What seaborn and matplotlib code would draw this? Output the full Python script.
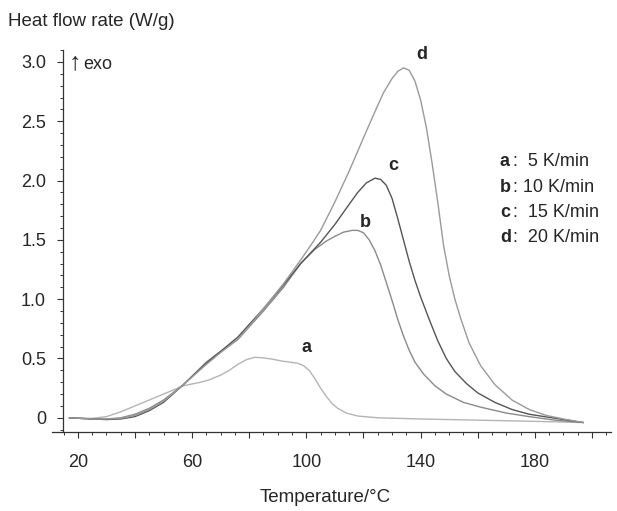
import matplotlib
matplotlib.use("Agg")
import matplotlib.pyplot as plt
import pandas as pd
import seaborn as sns
from matplotlib.ticker import MultipleLocator

sns.set_style("ticks")
plt.rcParams["font.family"] = ["Liberation Sans", "DejaVu Sans"]

# values (temperature in degC, heat flow in W/g)
t_a = [17, 25, 30, 35, 40, 45, 50, 54, 57, 60, 63, 66, 70, 73, 76, 79, 82, 85, 88, 91,
       94, 97, 99, 101, 103, 105, 107, 109, 111, 114, 118, 125, 140, 160, 180, 197]
h_a = [0.0, -0.005, 0.01, 0.05, 0.1, 0.15, 0.2, 0.24, 0.27, 0.285, 0.3, 0.32, 0.36, 0.4,
       0.45, 0.49, 0.51, 0.505, 0.495, 0.48, 0.47, 0.46, 0.44, 0.4, 0.33, 0.25, 0.18, 0.12,
       0.08, 0.04, 0.015, 0.0, -0.01, -0.02, -0.03, -0.04]

t_b = [17, 25, 30, 35, 40, 45, 50, 57, 65, 70, 76, 85, 92, 98, 103, 107, 110, 113, 116,
       118, 120, 122, 124, 126, 128, 130, 132, 134, 136, 138, 141, 145, 149, 155, 161,
       170, 178, 187, 197]
h_b = [0.0, -0.01, -0.01, 0.0, 0.03, 0.08, 0.15, 0.28, 0.47, 0.56, 0.66, 0.9, 1.1, 1.3,
       1.42, 1.49, 1.53, 1.565, 1.58, 1.58, 1.56, 1.5, 1.41, 1.29, 1.14, 0.99, 0.83, 0.69,
       0.57, 0.47, 0.37, 0.27, 0.2, 0.13, 0.09, 0.04, 0.01, -0.02, -0.04]

t_c = [17, 25, 30, 35, 40, 45, 50, 57, 65, 70, 76, 85, 92, 98, 105, 110, 115, 118, 121,
       124, 126, 128, 130, 132, 134, 136, 138, 140, 143, 146, 149, 152, 156, 160, 166,
       172, 178, 186, 197]
h_c = [0.0, -0.01, -0.015, -0.01, 0.01, 0.06, 0.13, 0.28, 0.46, 0.56, 0.68, 0.92, 1.12,
       1.3, 1.48, 1.63, 1.8, 1.9, 1.98, 2.02, 2.01, 1.96, 1.85, 1.68, 1.5, 1.32, 1.16,
       1.02, 0.83, 0.65, 0.5, 0.39, 0.29, 0.21, 0.13, 0.07, 0.03, 0.0, -0.04]

t_d = [17, 25, 30, 35, 40, 45, 50, 57, 65, 70, 76, 80, 85, 92, 98, 102, 105, 110, 115,
       120, 124, 127, 130, 132, 134, 136, 138, 140, 142, 144, 146, 148, 150, 152, 154,
       157, 161, 166, 172, 178, 184, 190, 197]
h_d = [0.0, -0.01, -0.01, -0.005, 0.02, 0.07, 0.14, 0.28, 0.45, 0.55, 0.66, 0.77, 0.92,
       1.13, 1.33, 1.47, 1.58, 1.82, 2.08, 2.36, 2.58, 2.74, 2.86, 2.92, 2.95, 2.93, 2.84,
       2.68, 2.45, 2.15, 1.82, 1.46, 1.2, 1.0, 0.84, 0.63, 0.44, 0.28, 0.15, 0.07, 0.02,
       -0.01, -0.04]

curve_names = ["a", "b", "c", "d"]
rates = ["5 K/min", "10 K/min", "15 K/min", "20 K/min"]
legend_pad = ["  ", " ", "  ", "  "]
# label anchor positions (degC, W/g)
label_t = [100, 120.5, 130.3, 140.5]
label_h = [0.59, 1.65, 2.13, 3.06]

frames = []
for name, t, h in zip(curve_names, [t_a, t_b, t_c, t_d], [h_a, h_b, h_c, h_d]):
    frames.append(pd.DataFrame({"T": t, "H": h, "curve": name}))
df = pd.concat(frames, ignore_index=True)

colors = {"a": "#b4b4b4", "b": "#8a8a8a", "c": "#555555", "d": "#9a9a9a"}

fig = plt.figure(figsize=(6.17, 5.11), dpi=100)
ax = fig.add_axes([0.084, 0.155, 0.906, 0.747])

sns.lineplot(data=df, x="T", y="H", hue="curve", palette=colors, legend=False,
             linewidth=1.0, ax=ax)

ax.set_xlim(10.9, 206.6)
ax.set_ylim(-0.118, 3.10)
sns.despine(ax=ax)
ax.spines["left"].set_position(("data", 14.7))

ax.set_xticks([20, 40, 60, 80, 100, 120, 140, 160, 180, 200])
ax.set_xticklabels(["20", "", "60", "", "100", "", "140", "", "180", ""])
ax.xaxis.set_minor_locator(MultipleLocator(5))
ax.set_yticks([0, 0.5, 1.0, 1.5, 2.0, 2.5, 3.0])
ax.set_yticklabels(["0", "0.5", "1.0", "1.5", "2.0", "2.5", "3.0"])
ax.yaxis.set_minor_locator(MultipleLocator(0.1))
ax.tick_params(axis="both", which="major", length=4, width=0.8, labelsize=13, color="#333333")
ax.tick_params(axis="both", which="minor", length=2.5, width=0.7, color="#333333")
ax.tick_params(axis="x", which="major", pad=12)
ax.tick_params(axis="y", which="major", pad=8)
for s in ["left", "bottom"]:
    ax.spines[s].set_color("#333333")
    ax.spines[s].set_linewidth(0.9)

ax.set_xlabel("")
ax.set_ylabel("")
fig.text(0.527, 0.027, "Temperature/°C", fontsize=13.5, va="center", ha="center")
fig.text(0.013, 0.957, "Heat flow rate (W/g)", fontsize=13.5, va="center", ha="left")
fig.text(0.111, 0.879, "↑", fontsize=18, va="center", ha="left")
fig.text(0.135, 0.873, "exo", fontsize=13, va="center", ha="left")

for name, tx, hy in zip(curve_names, label_t, label_h):
    ax.text(tx, hy, name, fontsize=13, fontweight="bold", ha="center", va="center")

for i, (name, rate, pad) in enumerate(zip(curve_names, rates, legend_pad)):
    y = 0.683 - i * 0.049
    fig.text(0.81, y, name, fontsize=13, fontweight="bold", va="center", ha="left")
    fig.text(0.831, y, ":" + pad + rate, fontsize=13, va="center", ha="left")

fig.savefig("out.png", dpi=100)
